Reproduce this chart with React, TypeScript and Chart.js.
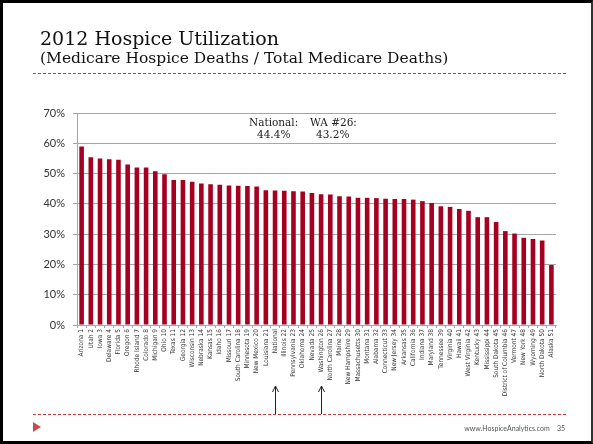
import React, { useEffect, useRef } from "react";
import { Chart, registerables } from "chart.js";

Chart.register(...registerables);

const states: string[] = [
  "Arizona 1", "Utah 2", "Iowa 3", "Delaware 4", "Florida 5", "Oregon 6", "Rhode Island 7",
  "Colorado 8", "Michigan 9", "Ohio 10", "Texas 11", "Georgia 12", "Wisconsin 13", "Nebraska 14",
  "Kansas 15", "Idaho 16", "Missouri 17", "South Carolina 18", "Minnesota 19", "New Mexico 20",
  "Louisiana 21", "National", "Illinois 22", "Pennsylvania 23", "Oklahoma 24", "Nevada 25",
  "Washington 26", "North Carolina 27", "Maine 28", "New Hampshire 29", "Massachusetts 30",
  "Montana 31", "Alabama 32", "Connecticut 33", "New Jersey 34", "Arkansas 35", "California 36",
  "Indiana 37", "Maryland 38", "Tennessee 39", "Virginia 40", "Hawaii 41", "West Virginia 42",
  "Kentucky 43", "Mississippi 44", "South Dakota 45", "District of Columbia 46", "Vermont 47",
  "New York 48", "Wyoming 49", "North Dakota 50", "Alaska 51",
];

const utilization: number[] = [
  58.9, 55.4, 55.0, 54.7, 54.6, 53.0, 52.0, 52.0, 50.8, 49.8, 47.9, 47.9, 47.3, 46.7,
  46.5, 46.3, 46.1, 46.0, 45.9, 45.7, 44.5, 44.4, 44.3, 44.2, 44.1, 43.6, 43.2, 43.1,
  42.5, 42.4, 42.0, 42.0, 41.9, 41.7, 41.6, 41.6, 41.4, 40.9, 40.3, 39.2, 39.0, 38.3,
  37.7, 35.6, 35.6, 34.0, 31.0, 30.2, 28.8, 28.4, 27.9, 19.8,
];

const yTicks: number[] = [0, 10, 20, 30, 40, 50, 60, 70];
const arrowLabels: string[] = ["National", "Washington 26"];

const arrowPlugin = {
  id: "arrows",
  afterDraw(chart: any) {
    const ctx = chart.ctx;
    const xs = chart.scales.x;
    ctx.save();
    ctx.strokeStyle = "#222";
    ctx.lineWidth = 1;
    arrowLabels.forEach((lab) => {
      const idx = states.indexOf(lab);
      const x = Math.round(xs.getPixelForValue(idx)) + 0.5;
      ctx.beginPath();
      ctx.moveTo(x, 414);
      ctx.lineTo(x, 387);
      ctx.moveTo(x - 3, 392);
      ctx.lineTo(x, 386);
      ctx.lineTo(x + 3, 392);
      ctx.stroke();
    });
    ctx.restore();
  },
};

const dashed = "repeating-linear-gradient(to right, #d0393c 0px, #d0393c 3px, transparent 3px, transparent 5px)";

export default function App() {
  const ref = useRef<HTMLCanvasElement>(null);

  useEffect(() => {
    document.body.style.margin = "0";
    const chart = new Chart(ref.current!, {
      type: "bar",
      data: {
        labels: states,
        datasets: [
          {
            data: utilization,
            backgroundColor: "#A50021",
            barPercentage: 0.5,
            categoryPercentage: 1.0,
          },
        ],
      },
      options: {
        animation: false,
        responsive: false,
        layout: { padding: { left: 0, right: 37, top: 113, bottom: 0 } },
        plugins: { legend: { display: false }, tooltip: { enabled: false } },
        scales: {
          y: {
            min: 0,
            max: 70,
            afterFit: (s: any) => { s.width = 77; },
            afterBuildTicks: (s: any) => { s.ticks = yTicks.map((v) => ({ value: v })); },
            ticks: {
              callback: (v: any) => v + "%",
              color: "#333",
              padding: 8,
              font: { family: "Lato, 'Open Sans', sans-serif", size: 11 },
            },
            grid: { color: "#a6a6a6", lineWidth: 1, tickLength: 4 },
            border: { color: "#a6a6a6" },
          },
          x: {
            offset: true,
            afterFit: (s: any) => { s.height = 119; },
            grid: { drawOnChartArea: false, color: "#a6a6a6", tickLength: 3, offset: true },
            border: { color: "#a6a6a6" },
            ticks: {
              autoSkip: false,
              maxRotation: 90,
              minRotation: 90,
              padding: 1,
              color: "#333",
              font: { family: "'Liberation Sans Narrow', 'Arial Narrow', 'DejaVu Sans Condensed', sans-serif", size: 6.5 },
            },
          },
        },
      },
      plugins: [arrowPlugin],
    });
    return () => chart.destroy();
  }, []);

  const serif = "'DejaVu Serif', serif";
  return (
    <div style={{ position: "fixed", left: 0, top: 0, width: 593, height: 444, background: "#fff", overflow: "hidden" }}>
      <canvas ref={ref} width={593} height={444} style={{ position: "absolute", left: 0, top: 0 }} />
      <div style={{ position: "absolute", left: 40, top: 27, fontFamily: serif, fontSize: 19, color: "#111", whiteSpace: "nowrap", lineHeight: "23px" }}>
        2012 Hospice Utilization
      </div>
      <div style={{ position: "absolute", left: 40, top: 49, fontFamily: serif, fontSize: 15.5, color: "#111", whiteSpace: "nowrap", lineHeight: "18px" }}>
        (Medicare Hospice Deaths / Total Medicare Deaths)
      </div>
      <div style={{ position: "absolute", left: 33, top: 73, width: 533, height: 1, background: dashed }} />
      <div style={{ position: "absolute", left: 249, top: 116, fontFamily: serif, fontSize: 10.5, color: "#222", whiteSpace: "nowrap", lineHeight: "12px" }}>
        National:
      </div>
      <div style={{ position: "absolute", left: 310, top: 116, fontFamily: serif, fontSize: 10.5, color: "#222", whiteSpace: "nowrap", lineHeight: "12px" }}>
        WA #26:
      </div>
      <div style={{ position: "absolute", left: 257, top: 128, fontFamily: serif, fontSize: 10.5, color: "#222", whiteSpace: "nowrap", lineHeight: "12px" }}>
        44.4%
      </div>
      <div style={{ position: "absolute", left: 316, top: 128, fontFamily: serif, fontSize: 10.5, color: "#222", whiteSpace: "nowrap", lineHeight: "12px" }}>
        43.2%
      </div>
      <div style={{ position: "absolute", left: 33, top: 414, width: 534, height: 1, background: dashed }} />
      <div style={{ position: "absolute", left: 33, top: 422, width: 0, height: 0, borderTop: "5px solid transparent", borderBottom: "5px solid transparent", borderLeft: "8px solid #c0504d" }} />
      <div style={{ position: "absolute", right: 28, top: 424, fontFamily: "Lato, sans-serif", fontSize: 7, color: "#555", whiteSpace: "nowrap", lineHeight: "9px" }}>
        www.HospiceAnalytics.com&nbsp;&nbsp;&nbsp;&nbsp;35
      </div>
      <div style={{ position: "absolute", left: 0, top: 0, width: 593, height: 444, boxSizing: "border-box", borderTop: "3px solid #000", borderLeft: "3px solid #000", borderBottom: "3px solid #000", borderRight: "2px solid #333", pointerEvents: "none" }} />
    </div>
  );
}
